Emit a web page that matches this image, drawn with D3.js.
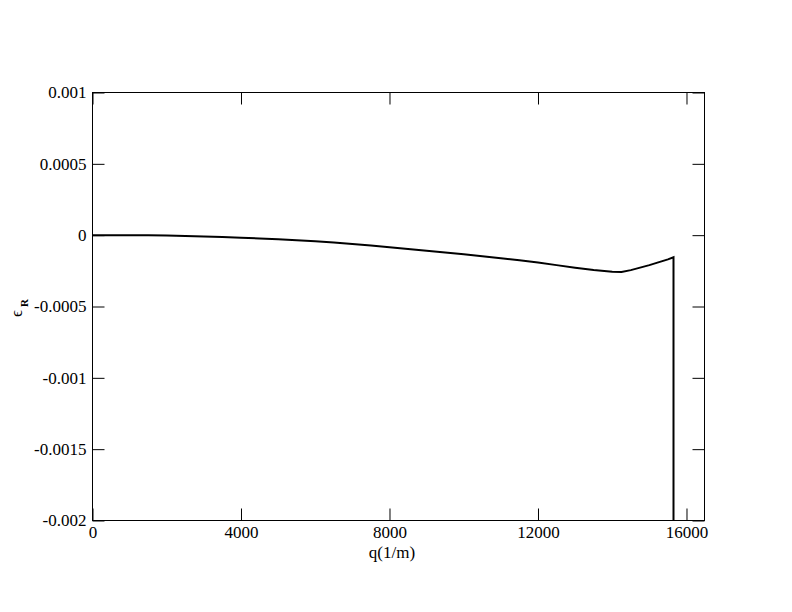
<!DOCTYPE html>
<html><head><meta charset="utf-8">
<script src="https://cdn.jsdelivr.net/npm/d3@7"></script>
<style>body{margin:0;background:#fff;} svg{display:block;}</style>
</head><body>
<script>
const qValues = [0,500,1000,1500,2000,2500,3000,3500,4000,4500,5000,5500,6000,6500,7000,7500,8000,8500,9000,9500,10000,10500,11000,11500,12000,12500,13000,13500,14000,14250,14500,15000,15500,15650,15650];
const epsValues = [0,0,0,-0.000001,-0.000003,-0.000005,-0.000009,-0.000013,-0.000018,-0.000023,-0.000029,-0.000035,-0.000042,-0.000052,-0.000062,-0.000073,-0.000085,-0.000097,-0.000109,-0.000121,-0.000134,-0.000148,-0.000162,-0.000176,-0.000191,-0.000210,-0.000228,-0.000244,-0.000256,-0.000258,-0.000245,-0.000210,-0.000170,-0.000155,-0.0021];
const xTicks = [0,4000,8000,12000,16000];
const yTicks = [0.001,0.0005,0,-0.0005,-0.001,-0.0015,-0.002];
const yTickLabels = ["0.001","0.0005","0","-0.0005","-0.001","-0.0015","-0.002"];

const W=792,H=612;
const svg=d3.select("body").append("svg").attr("width",W).attr("height",H);
const L=92.5,R=704.5,T=92.5,B=520.5;
const x=d3.scaleLinear().domain([0,16485]).range([L,R]);
const y=d3.scaleLinear().domain([-0.002,0.001]).range([B,T]);
const font="'Liberation Serif','Times New Roman',serif";

svg.append("defs").append("clipPath").attr("id","c").append("rect")
  .attr("x",L).attr("y",T).attr("width",R-L).attr("height",B-T);

const data=qValues.map((q,i)=>[q,epsValues[i]]);
svg.append("path").datum(data).attr("clip-path","url(#c)")
  .attr("fill","none").attr("stroke","#000").attr("stroke-width",2)
  .attr("d",d3.line().x(d=>x(d[0])).y(d=>y(d[1])));

svg.append("rect").attr("x",L).attr("y",T).attr("width",R-L).attr("height",B-T)
  .attr("fill","none").attr("stroke","#000").attr("stroke-width",1);

function styleAxis(g){
  g.select(".domain").remove();
  g.selectAll("line").attr("stroke","#000");
  g.selectAll("text").attr("font-family",font).attr("font-size",17).attr("fill","#000");
}
svg.append("g").attr("transform",`translate(0,${B})`)
  .call(d3.axisBottom(x).tickValues(xTicks).tickSizeInner(-12).tickSizeOuter(0).tickPadding(5).tickFormat(d3.format("d")))
  .call(styleAxis);
svg.append("g").attr("transform",`translate(0,${T})`)
  .call(d3.axisTop(x).tickValues(xTicks).tickSizeInner(-12).tickSizeOuter(0).tickFormat(""))
  .call(styleAxis);
svg.append("g").attr("transform",`translate(${L},0)`)
  .call(d3.axisLeft(y).tickValues(yTicks).tickSizeInner(-12).tickSizeOuter(0).tickPadding(6).tickFormat((d,i)=>yTickLabels[i]))
  .call(styleAxis);
svg.append("g").attr("transform",`translate(${R},0)`)
  .call(d3.axisRight(y).tickValues(yTicks).tickSizeInner(-12).tickSizeOuter(0).tickFormat(""))
  .call(styleAxis);

svg.append("text").attr("x",392).attr("y",558).attr("text-anchor","middle")
  .attr("font-family",font).attr("font-size",17).text("q(1/m)");

const yl=svg.append("text").attr("transform","translate(22,308) rotate(-90)").attr("text-anchor","middle")
  .attr("font-family",font).attr("font-size",17);
yl.append("tspan").text("\u03F5");
yl.append("tspan").attr("dx",3).attr("dy",6).attr("font-size",11).attr("font-weight","bold").text("R");
</script>
</body></html>
